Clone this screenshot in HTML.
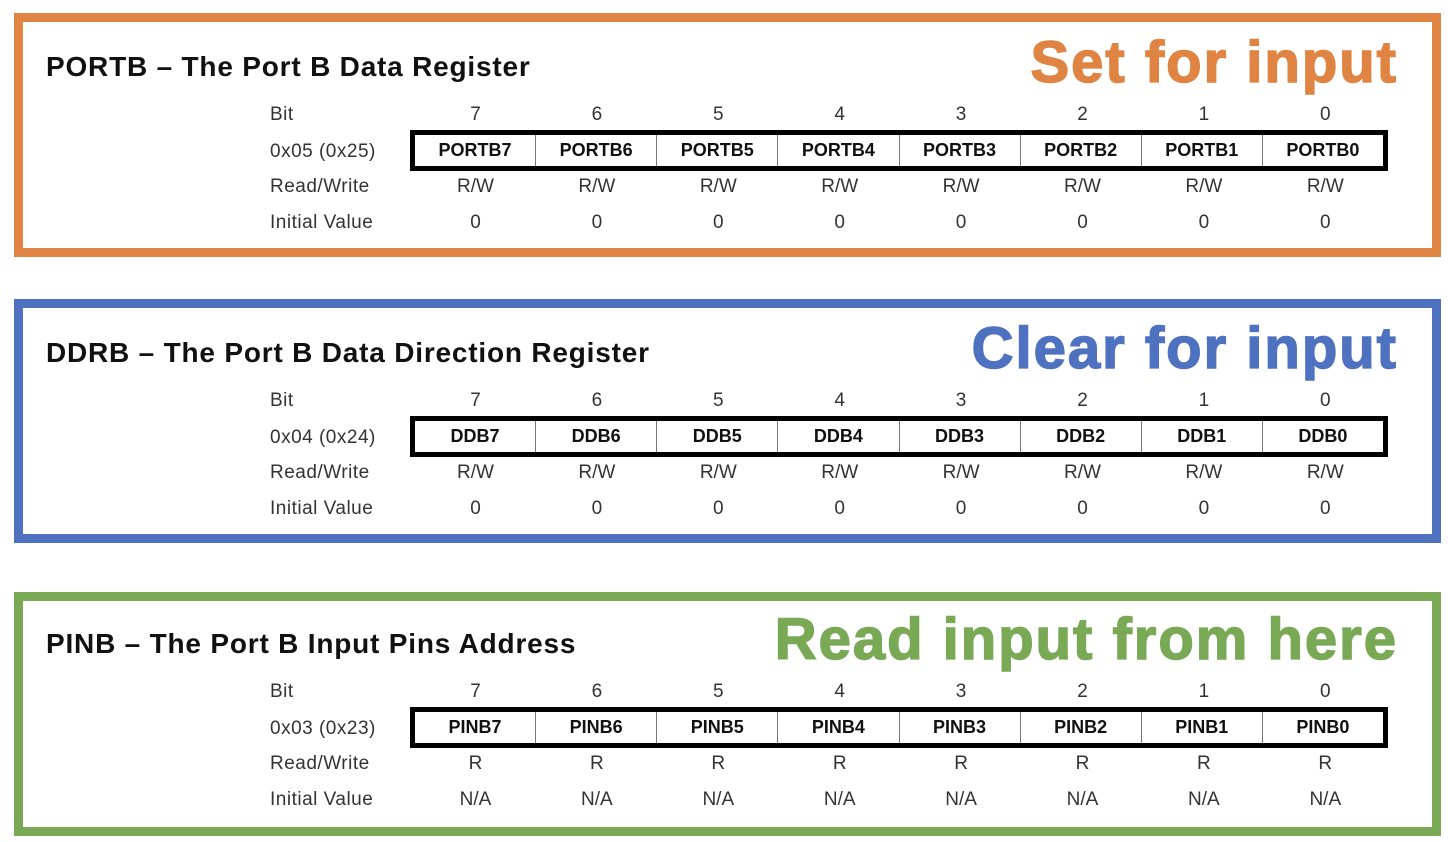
<!DOCTYPE html>
<html><head><meta charset="utf-8"><style>
body{margin:0;width:1448px;height:842px;background:#fff;position:relative;overflow:hidden;font-family:"Liberation Sans",Arial,sans-serif;}
.box{position:absolute;left:14px;width:1409px;height:226px;border:9px solid;}
.t{position:absolute;white-space:nowrap;}
.title{font-size:28px;font-weight:bold;color:#111;left:46px;letter-spacing:0.8px;}
.big{font-size:58px;font-weight:900;right:50px;letter-spacing:2px;-webkit-text-stroke:1.5px currentColor;}
.lbl{font-size:19px;color:#333;left:270px;letter-spacing:0.5px;}
.c{position:absolute;width:121px;text-align:center;font-size:19px;color:#333;}
.tbl{position:absolute;left:410px;width:968px;height:31px;border:5px solid #000;display:flex;background:#fff;}
.tbl div{flex:1;text-align:center;font-weight:bold;font-size:18px;line-height:31px;color:#111;border-right:1px solid #777;}
.tbl div:last-child{border-right:none;}
</style></head><body>
<div class="box" style="top:13px;border-color:#e08443"></div>
<div class="box" style="top:299px;border-color:#4f72c0"></div>
<div class="box" style="top:592px;border-color:#79a955"></div>
<div id="c"></div>
<script>
var sets=[
 {o:0,title:"PORTB – The Port B Data Register",big:"Set for input",col:"#e08443",addr:"0x05 (0x25)",n:"PORTB",rw:"R/W",iv:"0"},
 {o:286,title:"DDRB – The Port B Data Direction Register",big:"Clear for input",col:"#4f72c0",addr:"0x04 (0x24)",n:"DDB",rw:"R/W",iv:"0"},
 {o:577,title:"PINB – The Port B Input Pins Address",big:"Read input from here",col:"#79a955",addr:"0x03 (0x23)",n:"PINB",rw:"R",iv:"N/A"}];
var h="";
sets.forEach(function(s){var o=s.o;
 h+='<div class="t title" style="top:'+(51+o)+'px">'+s.title+'</div>';
 h+='<div class="t big" style="top:'+(29+o)+'px;color:'+s.col+'">'+s.big+'</div>';
 h+='<div class="t lbl" style="top:'+(104+o)+'px">Bit</div>';
 h+='<div class="t lbl" style="top:'+(141+o)+'px">'+s.addr+'</div>';
 h+='<div class="t lbl" style="top:'+(176+o)+'px">Read/Write</div>';
 h+='<div class="t lbl" style="top:'+(212+o)+'px">Initial Value</div>';
 h+='<div class="tbl" style="top:'+(130+o)+'px">';
 for(var i=7;i>=0;i--)h+='<div>'+s.n+i+'</div>';
 h+='</div>';
 for(var j=0;j<8;j++){var x=415+j*121.4;
  h+='<div class="c" style="left:'+x+'px;top:'+(104+o)+'px">'+(7-j)+'</div>';
  h+='<div class="c" style="left:'+x+'px;top:'+(176+o)+'px">'+s.rw+'</div>';
  h+='<div class="c" style="left:'+x+'px;top:'+(212+o)+'px">'+s.iv+'</div>';}
});
document.getElementById("c").innerHTML=h;
</script>
</body></html>
